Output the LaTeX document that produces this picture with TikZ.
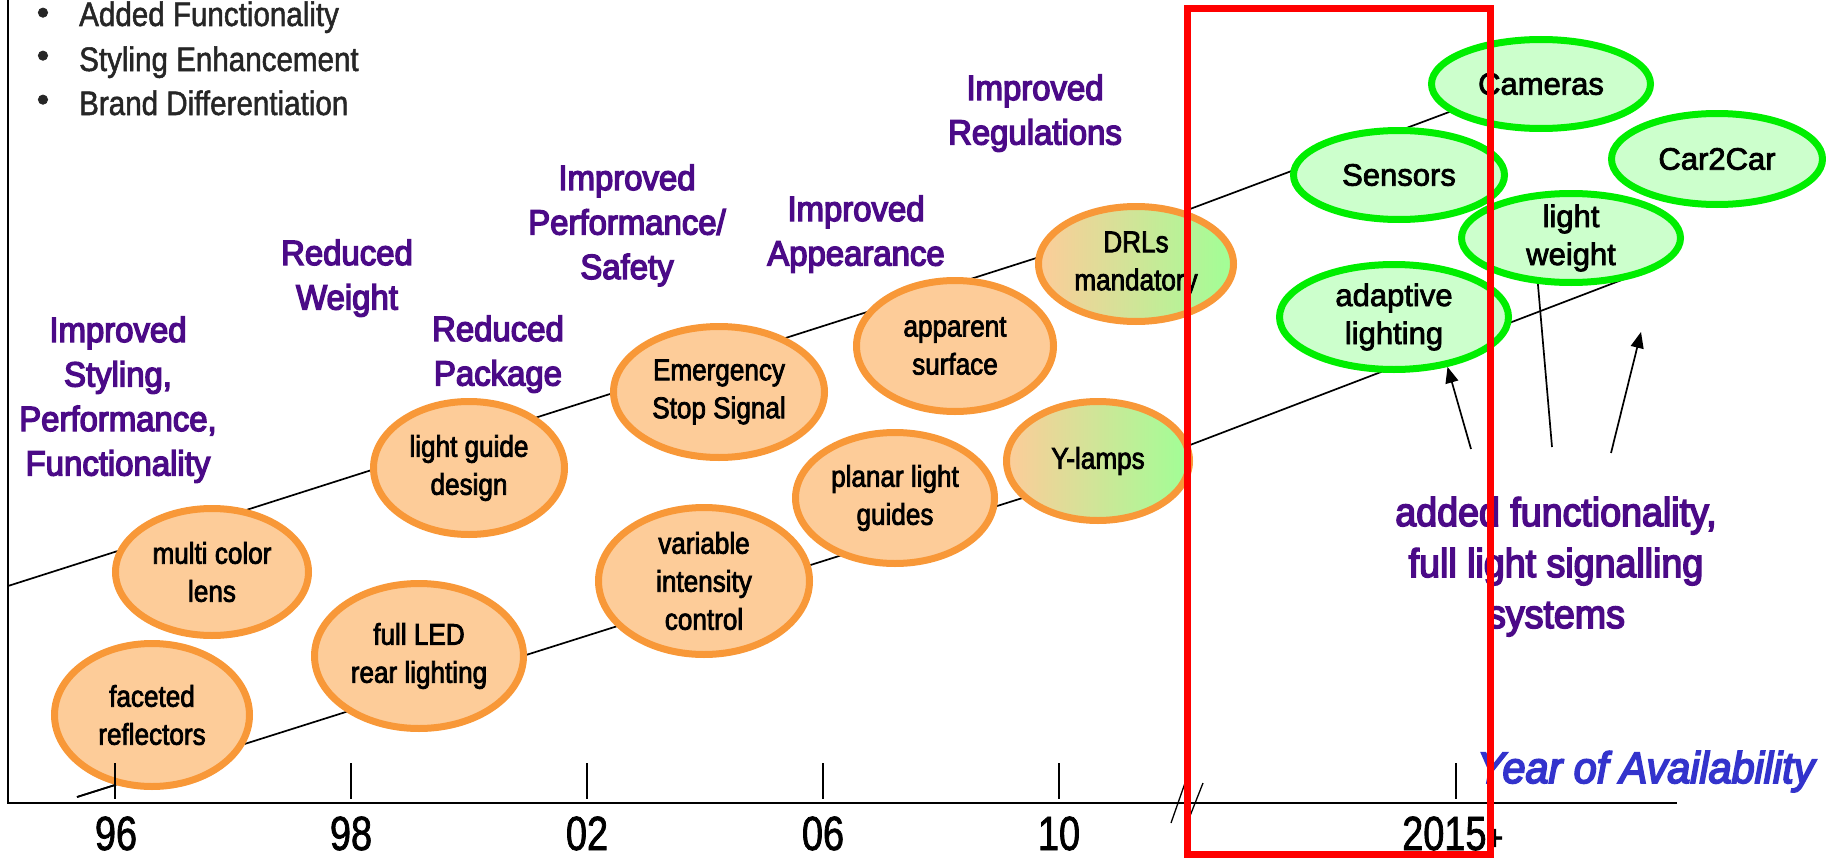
\documentclass[tikz,border=0pt]{standalone}
\usepackage{fontspec}
\setmainfont[FakeBold=2.5]{Liberation Sans}
\newfontfamily\narrowfont[FakeStretch=0.87,FakeBold=2.5]{Liberation Sans}
\newfontfamily\bulfont[FakeStretch=0.87,FakeBold=1.5]{Liberation Sans}
\newfontfamily\purpfont[FakeStretch=0.94,FakeBold=4]{Liberation Sans}
\newfontfamily\axfont[FakeStretch=0.79,FakeBold=1.5]{Liberation Sans}
\usetikzlibrary{shapes.geometric,arrows.meta}
\definecolor{purp}{RGB}{75,10,135}
\definecolor{peach}{RGB}{253,204,153}
\definecolor{orng}{RGB}{248,152,56}
\definecolor{lgreen}{RGB}{204,255,204}
\definecolor{bgreen}{RGB}{0,238,0}
\definecolor{gradgreen}{RGB}{160,255,150}
\definecolor{ablue}{RGB}{51,51,204}
\definecolor{bgray}{RGB}{38,38,38}
\newcommand{\stk}[1]{\begin{tabular}[t]{@{}c@{}}#1\end{tabular}}
\tikzset{
  oell/.style={ellipse, draw=orng, fill=peach, line width=7pt, inner sep=0pt},
  mell/.style={ellipse, draw=orng, left color=peach, right color=gradgreen, line width=7pt, inner sep=0pt},
  gell/.style={ellipse, draw=bgreen, fill=lgreen, line width=7pt, inner sep=0pt},
  ntxt/.style={align=center, inner sep=0pt, text=black, font=\narrowfont\fontsize{30}{38}\selectfont},
  gtxt/.style={align=center, inner sep=0pt, text=black, font=\fontsize{31}{38}\selectfont},
  plbl/.style={anchor=base, inner sep=0pt, text=purp, font=\purpfont\fontsize{35}{44.5}\selectfont},
  bigplbl/.style={anchor=base, inner sep=0pt, text=purp, font=\purpfont\fontsize{40}{51}\selectfont},
  bul/.style={anchor=base west, inner sep=0pt, text=bgray, font=\bulfont\fontsize{34}{40}\selectfont},
  bdot/.style={inner sep=0pt, text=bgray, font=\fontsize{34}{34}\selectfont},
  axl/.style={anchor=base, inner sep=0pt, font=\axfont\fontsize{48}{48}\selectfont},
  trend/.style={line width=1.7pt, black},
  tick/.style={line width=1.1pt, black},
  arr/.style={line width=1.7pt, black, -{Triangle[length=16pt,width=13pt]}},
  axis/.style={line width=2.3pt, black},
  redbox/.style={draw=red, line width=7pt}
}
\begin{document}
\begin{tikzpicture}[x=1pt, y=-1pt]
\useasboundingbox (0,0) rectangle (1826,859);

% axes
\coordinate (ytop) at (8,0);
\coordinate (orig) at (8,803);
\coordinate (xend) at (1677,803);
\draw[axis] (ytop) -- (orig) -- (xend);
\coordinate (b1a) at (1171,823); \coordinate (b1b) at (1185,783);
\coordinate (b2a) at (1188,821); \coordinate (b2b) at (1203,783);
\draw[line width=1.3pt] (b1a) -- (b1b);
\draw[line width=1.3pt] (b2a) -- (b2b);

% trend lines
\coordinate (u0) at (8,586); \coordinate (u1) at (1190,209); \coordinate (u2) at (1500,93);
\coordinate (l0) at (77,797); \coordinate (l1) at (1190,445); \coordinate (l2) at (1640,273);
\draw[trend] (u0) -- (u1) -- (u2);
\draw[trend] (l0) -- (l1) -- (l2);

% arrow end points
\coordinate (a2s) at (1552,447);
\coordinate (a2e) at (1536,262);
\coordinate (a1s) at (1471,449);
\coordinate (a3s) at (1611,453); \coordinate (a3e) at (1641,332);

% orange ellipses
\node[oell, minimum width=195pt, minimum height=143pt] (fac) at (152,715) {};
\node[ntxt] (fact) at (fac) {faceted\\reflectors};
\node[oell, minimum width=193pt, minimum height=127pt] (mcl) at (212,572) {};
\node[ntxt] (mclt) at (mcl) {multi color\\lens};
\node[oell, minimum width=209pt, minimum height=145pt] (led) at (419,656) {};
\node[ntxt] (ledt) at (led) {full LED\\rear lighting};
\node[oell, minimum width=191pt, minimum height=133pt] (lgd) at (469,468) {};
\node[ntxt] (lgdt) at (lgd) {light guide\\design};
\node[oell, minimum width=211pt, minimum height=131pt] (ess) at (719,392) {};
\node[ntxt] (esst) at (ess) {Emergency\\Stop Signal};
\node[oell, minimum width=211pt, minimum height=147pt] (vic) at (704,581) {};
\node[ntxt] (vict) at (vic) {variable\\intensity\\control};
\node[oell, minimum width=199pt, minimum height=131pt] (plg) at (895,498) {};
\node[ntxt] (plgt) at (plg) {planar light\\guides};
\node[oell, minimum width=197pt, minimum height=131pt] (aps) at (955,346) {};
\node[ntxt] (apst) at (aps) {apparent\\surface};
\node[mell, minimum width=195pt, minimum height=115pt] (drl) at (1136,264) {};
\node[ntxt] (drlt) at (drl) {DRLs\\mandatory};
\node[mell, minimum width=183pt, minimum height=119pt] (ylp) at (1098,461) {};
\node[ntxt] (ylpt) at (ylp) {Y-lamps};

% line toward light weight (end hidden under the ellipse)
\draw[trend] (a2s) -- (a2e);

% green ellipses
\node[gell, minimum width=219pt, minimum height=89pt] (cam) at (1541,84) {};
\node[gtxt] (camt) at (cam) {Cameras};
\node[gell, minimum width=211pt, minimum height=89pt] (sen) at (1399,175) {};
\node[gtxt] (sent) at (sen) {Sensors};
\node[gell, minimum width=211pt, minimum height=91pt] (c2c) at (1717,159) {};
\node[gtxt] (c2ct) at (c2c) {Car2Car};
\node[gell, minimum width=219pt, minimum height=89pt] (lwt) at (1571,238) {};
\node[gtxt] (lwtt) at (lwt) {light\\weight};
\node[gell, minimum width=229pt, minimum height=105pt] (ada) at (1394,317) {};
\node[gtxt] (adat) at (ada) {adaptive\\lighting};

\draw[arr] (a1s) -- (ada.-43);
\draw[arr] (a3s) -- (a3e);

% ticks
\foreach \tx/\nm in {115/t96,351/t98,587/t02,823/t06,1059/t10,1456/t15}{
  \coordinate (\nm a) at (\tx,763); \coordinate (\nm b) at (\tx,799);
  \draw[tick] (\nm a) -- (\nm b);
}
\coordinate (lt) at (115,785);
\draw[trend] (l0) -- (lt);

% axis labels
\node[axl] (x96) at (116,850) {96};
\node[axl] (x98) at (351,850) {98};
\node[axl] (x02) at (587,850) {02};
\node[axl] (x06) at (823,850) {06};
\node[axl] (x10) at (1059,850) {10};
\node[axl, anchor=base west] (x15) at (1402,850) {2015{\fontsize{36}{36}\selectfont+}};

% bullets
\node[bdot] (d1) at (43,16) {•};
\node[bdot] (d2) at (43,59) {•};
\node[bdot] (d3) at (43,103) {•};
\node[bul] (b1) at (79,26) {Added Functionality};
\node[bul] (b2) at (79,71) {Styling Enhancement};
\node[bul] (b3) at (79,115) {Brand Differentiation};

% purple labels
\node[plbl] (p1) at (118,342) {\stk{Improved\\Styling,\\Performance,\\Functionality}};
\node[plbl] (p2) at (347,265) {\stk{Reduced\\Weight}};
\node[plbl] (p3) at (498,341) {\stk{Reduced\\Package}};
\node[plbl] (p4) at (627,190) {\stk{Improved\\Performance/\\Safety}};
\node[plbl] (p5) at (856,221) {\stk{Improved\\Appearance}};
\node[plbl] (p6) at (1035,100) {\stk{Improved\\Regulations}};
\node[bigplbl] (p7) at (1556,526) {\stk{added functionality,\\full light signalling\\systems}};

\node[anchor=base west, inner sep=0pt, text=ablue, font=\purpfont\itshape\fontsize{44}{44}\selectfont] (yoa) at (1477,783) {Year of Availability};

% red frame
\coordinate (r0) at (1187,9); \coordinate (r1) at (1490,854);
\draw[redbox] (r0) rectangle (r1);
\end{tikzpicture}
\end{document}
